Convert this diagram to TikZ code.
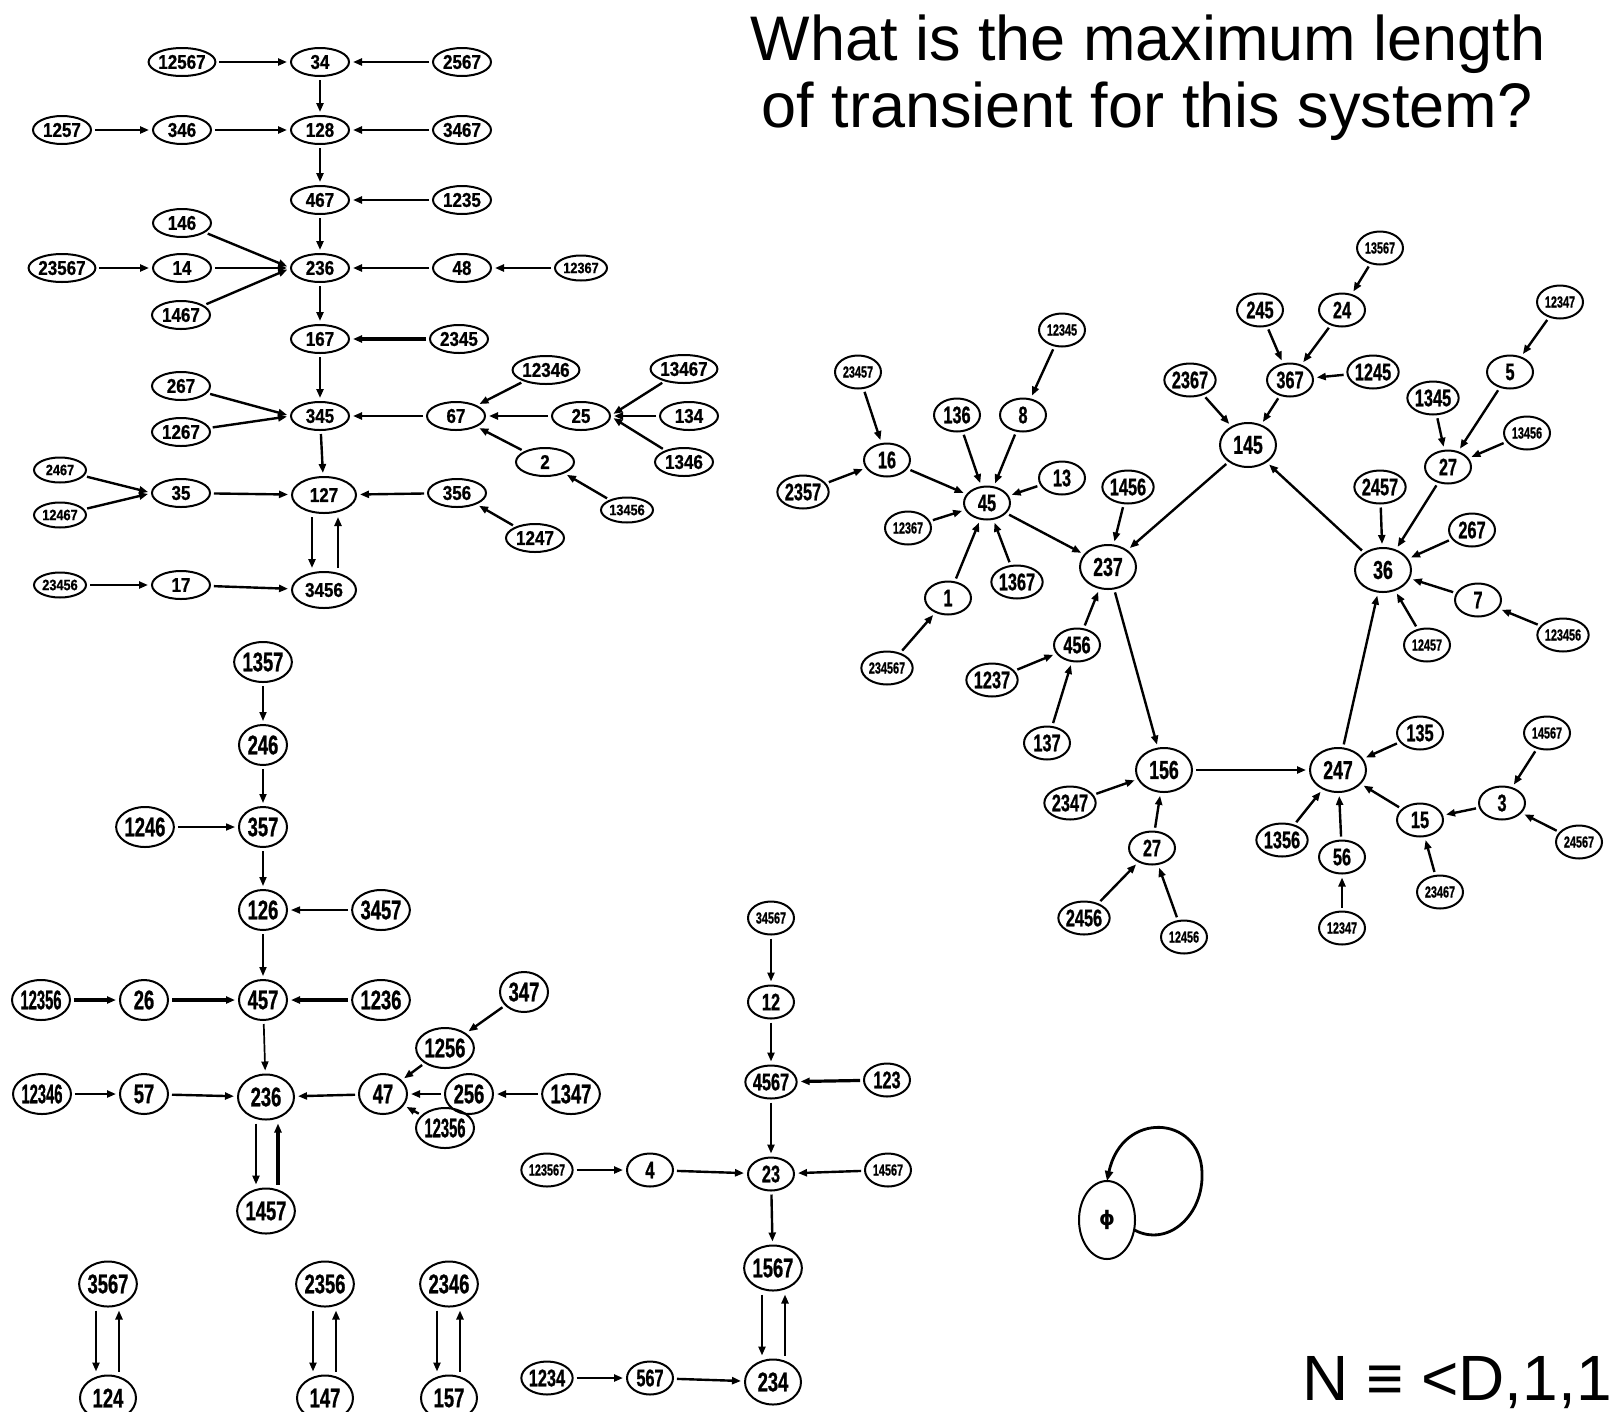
\documentclass[tikz,border=0pt]{standalone}
\usepackage{fontspec}
\usepackage{graphicx}
\usetikzlibrary{shapes.geometric,arrows.meta}
\setmainfont{Liberation Sans}
\newfontfamily\tlfont[FakeStretch=0.85, BoldFeatures={FakeBold=0.8}]{Liberation Sans}
\newfontfamily\cnfont[FakeStretch=0.68, BoldFeatures={FakeBold=0.8}]{Liberation Sans}
\newfontfamily\hdfont{Liberation Sans}
\newfontfamily\djfont{DejaVu Sans}

% squeeze a label horizontally when it is wider than \lblw
\newsavebox\lblbox
\def\lblw{40pt}
\newcommand\fitlbl[1]{\sbox\lblbox{#1}\ifdim\wd\lblbox>\lblw\relax\resizebox{\lblw}{\height}{#1}\else\usebox\lblbox\fi}
\newcommand\mknode[4]{\node[#1] (#2) at (#3) {\fitlbl{#4}};}

\tikzset{
  lw/.code={\def\lblw{#1}},
  st/.style={ellipse, draw, line width=2pt, inner sep=0pt, outer sep=0pt},
  tl/.style={st, minimum width=58pt, minimum height=28pt, font={\tlfont\bfseries\fontsize{20}{20}\selectfont}, lw=50pt},
  tlbig/.style={tl, minimum width=64pt, minimum height=36pt},
  tlsm/.style={minimum width=52pt, minimum height=25pt, font={\tlfont\bfseries\fontsize{15}{15}\selectfont}, lw=45pt},
  ml/.style={st, minimum width=48pt, minimum height=40pt, font={\cnfont\bfseries\fontsize{27}{27}\selectfont}, lw=41pt},
  mlbig/.style={ml, minimum width=56pt, minimum height=45pt},
  rc/.style={st, minimum width=46pt, minimum height=33pt, font={\cnfont\bfseries\fontsize{24}{24}\selectfont}, lw=38pt},
  rcbig/.style={rc, minimum width=56pt, minimum height=44pt, font={\cnfont\bfseries\fontsize{26}{26}\selectfont}, lw=45pt},
  rcsm/.style={font={\cnfont\bfseries\fontsize{16}{16}\selectfont}, lw=37pt},
  ar/.style={line width=2.4pt, -{Triangle[length=9pt,width=7pt]}, shorten >=4pt, shorten <=4pt},
  arth/.style={ar, line width=1.7pt},
  arhv/.style={ar, line width=3.2pt},
  hd/.style={inner sep=0pt, font={\hdfont\fontsize{63}{63}\selectfont}},
}

\begin{document}
\begin{tikzpicture}[x=1pt,y=-1pt]
\useasboundingbox (0,0) rectangle (1613,1411);
\fill[white] (0,0) rectangle (1613,1411);

% ---------- upper left tree ----------
\mknode{tl}{a12567}{182,62}{12567}
\mknode{tl}{a34}{320,62}{34}
\mknode{tl}{a2567}{462,62}{2567}
\mknode{tl}{a1257}{62,130}{1257}
\mknode{tl}{a346}{182,130}{346}
\mknode{tl}{a128}{320,130}{128}
\mknode{tl}{a3467}{462,130}{3467}
\mknode{tl}{a467}{320,200}{467}
\mknode{tl}{a1235}{462,200}{1235}
\mknode{tl}{a146}{182,223}{146}
\mknode{tl}{a23567}{62,268}{23567}
\mknode{tl}{a14}{182,268}{14}
\mknode{tl}{a236}{320,268}{236}
\mknode{tl}{a48}{462,268}{48}
\mknode{tl,tlsm}{a12367}{581,268}{12367}
\mknode{tl}{a1467}{181,315}{1467}
\mknode{tl}{a167}{320,339}{167}
\mknode{tl}{a2345}{459,339}{2345}
\mknode{tl}{a12346}{546,370}{12346}
\mknode{tl}{a13467}{684,369}{13467}
\mknode{tl}{a267}{181,386}{267}
\mknode{tl}{a345}{320,416}{345}
\mknode{tl}{a67}{456,416}{67}
\mknode{tl}{a25}{581,416}{25}
\mknode{tl}{a134}{689,416}{134}
\mknode{tl}{a1267}{181,432}{1267}
\mknode{tl}{a2}{545,462}{2}
\mknode{tl}{a1346}{684,462}{1346}
\mknode{tl,tlsm}{a2467}{60,470}{2467}
\mknode{tl}{a35}{181,493}{35}
\mknode{tlbig}{a127}{324,495}{127}
\mknode{tl}{a356}{457,493}{356}
\mknode{tl,tlsm}{a12467}{60,515}{12467}
\mknode{tl,tlsm}{a13456}{627,510}{13456}
\mknode{tl}{a1247}{535,538}{1247}
\mknode{tl,tlsm}{a23456}{60,585}{23456}
\mknode{tl}{a17}{181,585}{17}
\mknode{tlbig}{a3456}{324,590}{3456}

\draw[ar] (a12567) -- (a34);
\draw[ar] (a2567) -- (a34);
\draw[ar] (a34) -- (a128);
\draw[ar] (a1257) -- (a346);
\draw[ar] (a346) -- (a128);
\draw[ar] (a3467) -- (a128);
\draw[ar] (a128) -- (a467);
\draw[ar] (a1235) -- (a467);
\draw[ar] (a467) -- (a236);
\draw[ar] (a146) -- (a236.west);
\draw[ar] (a14) -- (a236.west);
\draw[ar] (a1467) -- (a236.west);
\draw[ar] (a23567) -- (a14);
\draw[ar] (a48) -- (a236);
\draw[ar] (a12367) -- (a48);
\draw[ar] (a236) -- (a167);
\draw[arhv] (a2345) -- (a167);
\draw[ar] (a167) -- (a345);
\draw[ar] (a267) -- (a345.west);
\draw[ar] (a1267) -- (a345.west);
\draw[ar] (a67) -- (a345);
\draw[ar] (a12346) -- (a67);
\draw[ar] (a25) -- (a67);
\draw[ar] (a2) -- (a67);
\draw[ar] (a13467) -- (a25.east);
\draw[ar] (a134) -- (a25.east);
\draw[ar] (a1346) -- (a25.east);
\draw[ar] (a13456) -- (a2);
\draw[ar] (a345) -- (a127);
\draw[ar] (a2467) -- (a35.west);
\draw[ar] (a12467) -- (a35.west);
\draw[ar] (a35) -- (a127);
\draw[ar] (a356) -- (a127);
\draw[ar] (a1247) -- (a356);
\draw[ar] ([xshift=-12pt]a127.south) -- ([xshift=-12pt]a3456.north);
\draw[ar] ([xshift=14pt]a3456.north) -- ([xshift=14pt]a127.south);
\draw[ar] (a23456) -- (a17);
\draw[ar] (a17) -- (a3456);

% ---------- middle left tree ----------
\mknode{ml}{b1357}{263,662}{1357}
\mknode{ml}{b246}{263,745}{246}
\mknode{ml}{b1246}{145,827}{1246}
\mknode{ml}{b357}{263,827}{357}
\mknode{ml}{b126}{263,910}{126}
\mknode{ml}{b3457}{381,910}{3457}
\mknode{ml}{b12356}{41,1000}{12356}
\mknode{ml}{b26}{144,1000}{26}
\mknode{ml}{b457}{263,1000}{457}
\mknode{ml}{b1236}{381,1000}{1236}
\mknode{ml}{b347}{524,992}{347}
\mknode{ml}{b1256}{445,1048}{1256}
\mknode{ml}{b12346}{42,1094}{12346}
\mknode{ml}{b57}{144,1094}{57}
\mknode{mlbig}{b236}{266,1097}{236}
\mknode{ml}{b47}{383,1094}{47}
\mknode{ml}{b256}{469,1094}{256}
\mknode{ml}{b1347}{571,1094}{1347}
\mknode{ml}{b12356x}{445,1128}{12356}
\mknode{mlbig}{b1457}{266,1211}{1457}

\draw[arth] (b1357) -- (b246);
\draw[arth] (b246) -- (b357);
\draw[arth] (b1246) -- (b357);
\draw[arth] (b357) -- (b126);
\draw[arth] (b3457) -- (b126);
\draw[arth] (b126) -- (b457);
\draw[arhv] (b12356) -- (b26);
\draw[arhv] (b26) -- (b457);
\draw[arhv] (b1236) -- (b457);
\draw[arth] (b457) -- (b236);
\draw[ar] (b12346) -- (b57);
\draw[ar] (b57) -- (b236);
\draw[ar] (b47) -- (b236);
\draw[ar] (b347) -- (b1256);
\draw[ar] (b1256) -- (b47);
\draw[ar] (b256) -- (b47);
\draw[ar] (b1347) -- (b256);
\draw[ar] (b12356x) -- (b47);
\draw[ar] ([xshift=-10pt]b236.south) -- ([xshift=-10pt]b1457.north);
\draw[arhv] ([xshift=12pt]b1457.north) -- ([xshift=12pt]b236.south);

% ---------- two-cycles at the bottom ----------
\mknode{mlbig}{c3567}{108,1284}{3567}
\mknode{mlbig}{c124}{108,1398}{124}
\mknode{mlbig}{c2356}{325,1284}{2356}
\mknode{mlbig}{c147}{325,1398}{147}
\mknode{mlbig}{c2346}{449,1284}{2346}
\mknode{mlbig}{c157}{449,1398}{157}
\foreach \u/\v in {c3567/c124, c2356/c147, c2346/c157}{
  \draw[ar] ([xshift=-12pt]\u.south) -- ([xshift=-12pt]\v.north);
  \draw[ar] ([xshift=11pt]\v.north) -- ([xshift=11pt]\u.south);
}

% ---------- lower middle tree ----------
\mknode{rc,rcsm}{d34567}{771,918}{34567}
\mknode{rc}{d12}{771,1002}{12}
\mknode{rc}{d4567}{771,1082}{4567}
\mknode{rc}{d123}{887,1080}{123}
\mknode{rc,rcsm}{d123567}{547,1170}{123567}
\mknode{rc}{d4}{650,1170}{4}
\mknode{rc}{d23}{771,1174}{23}
\mknode{rc,rcsm}{d14567}{888,1170}{14567}
\mknode{mlbig}{d1567}{773,1268}{1567}
\mknode{rc}{d1234}{547,1378}{1234}
\mknode{rc}{d567}{650,1378}{567}
\mknode{mlbig}{d234}{773,1382}{234}

\draw[ar] (d34567) -- (d12);
\draw[ar] (d12) -- (d4567);
\draw[arhv] (d123) -- (d4567);
\draw[ar] (d4567) -- (d23);
\draw[ar] (d123567) -- (d4);
\draw[ar] (d4) -- (d23);
\draw[ar] (d14567) -- (d23);
\draw[ar] (d23) -- (d1567);
\draw[ar] ([xshift=-11pt]d1567.south) -- ([xshift=-11pt]d234.north);
\draw[ar] ([xshift=12pt]d234.north) -- ([xshift=12pt]d1567.south);
\draw[ar] (d1234) -- (d567);
\draw[ar] (d567) -- (d234);

% ---------- right tree with its 5-cycle ----------
\mknode{rc,rcsm}{r12345}{1062,330}{12345}
\mknode{rc,rcsm}{r23457}{858,372}{23457}
\mknode{rc}{r136}{957,415}{136}
\mknode{rc}{r8}{1023,415}{8}
\mknode{rc}{r16}{887,460}{16}
\mknode{rc}{r13}{1062,478}{13}
\mknode{rc}{r2357}{803,492}{2357}
\mknode{rc}{r45}{987,503}{45}
\mknode{rc}{r1456}{1128,487}{1456}
\mknode{rc,rcsm}{r12367}{908,528}{12367}
\mknode{rcbig}{r237}{1108,567}{237}
\mknode{rc}{r1367}{1017,582}{1367}
\mknode{rc}{r1}{948,598}{1}
\mknode{rc}{r456}{1077,645}{456}
\mknode{rc,rcsm}{r234567}{887,668}{234567}
\mknode{rc}{r1237}{992,680}{1237}
\mknode{rc}{r137}{1047,743}{137}

\mknode{rc,rcsm}{r13567}{1380,248}{13567}
\mknode{rc}{r245}{1260,310}{245}
\mknode{rc}{r24}{1342,310}{24}
\mknode{rc,rcsm}{r12347}{1560,302}{12347}
\mknode{rc}{r2367}{1190,380}{2367}
\mknode{rc}{r367}{1290,380}{367}
\mknode{rc}{r1245}{1373,372}{1245}
\mknode{rc}{r5}{1510,372}{5}
\mknode{rc}{r1345}{1433,398}{1345}
\mknode{rcbig}{r145}{1248,445}{145}
\mknode{rc,rcsm}{r13456}{1527,433}{13456}
\mknode{rc}{r27}{1448,467}{27}
\mknode{rc}{r2457}{1380,487}{2457}
\mknode{rc}{r267}{1472,530}{267}
\mknode{rcbig}{r36}{1383,570}{36}
\mknode{rc}{r7}{1478,600}{7}
\mknode{rc,rcsm}{r12457}{1427,645}{12457}
\mknode{rc,rcsm}{r123456}{1563,635}{123456}

\mknode{rcbig}{r156}{1164,770}{156}
\mknode{rc}{r2347}{1070,803}{2347}
\mknode{rc}{r27b}{1152,848}{27}
\mknode{rc}{r2456}{1084,918}{2456}
\mknode{rc,rcsm}{r12456}{1184,937}{12456}
\mknode{rcbig}{r247}{1338,770}{247}
\mknode{rc}{r135}{1420,733}{135}
\mknode{rc,rcsm}{r14567}{1547,733}{14567}
\mknode{rc}{r1356}{1282,840}{1356}
\mknode{rc}{r56}{1342,857}{56}
\mknode{rc}{r15}{1420,820}{15}
\mknode{rc}{r3}{1502,803}{3}
\mknode{rc,rcsm}{r24567}{1579,842}{24567}
\mknode{rc,rcsm}{r23467}{1440,892}{23467}
\mknode{rc,rcsm}{r12347b}{1342,928}{12347}

\foreach \u/\v in {r12345/r8, r8/r45, r136/r45, r23457/r16, r2357/r16, r16/r45,
  r13/r45, r12367/r45, r1367/r45, r1/r45, r234567/r1, r45/r237, r1456/r237,
  r456/r237, r1237/r456, r137/r456,
  r145/r237, r2367/r145, r367/r145, r245/r367, r24/r367, r13567/r24, r1245/r367,
  r36/r145, r2457/r36, r27/r36, r1345/r27, r5/r27, r12347/r5, r13456/r27,
  r267/r36, r7/r36, r123456/r7, r12457/r36,
  r247/r36, r135/r247, r1356/r247, r56/r247, r12347b/r56, r15/r247, r3/r15,
  r14567/r3, r24567/r3, r23467/r15,
  r156/r247, r2347/r156, r27b/r156, r2456/r27b, r12456/r27b, r237/r156}
  \draw[ar] (\u) -- (\v);

% ---------- fixed point ----------
\node[st, minimum width=56pt, minimum height=78pt, font={\djfont\bfseries\fontsize{20}{20}\selectfont}] (phi) at (1107,1220) {ϕ};
\draw[line width=2.8pt, -{Triangle[length=10pt,width=8pt]}]
  (phi.-20) .. controls (1168,1248) and (1204,1215) .. (1202,1172)
  .. controls (1200,1115) and (1122,1110) .. (phi.north);

% ---------- texts ----------
\node[hd, anchor=base] (t1) at (1148,60) {What is the maximum length};
\node[hd, anchor=base] (t2) at (1147,127) {of transient for this system?};
\node[hd, anchor=base west, font={\hdfont\fontsize{64}{64}\selectfont}] (nt) at (1302,1400) {N ≡ <D,1,1};
\end{tikzpicture}
\end{document}
